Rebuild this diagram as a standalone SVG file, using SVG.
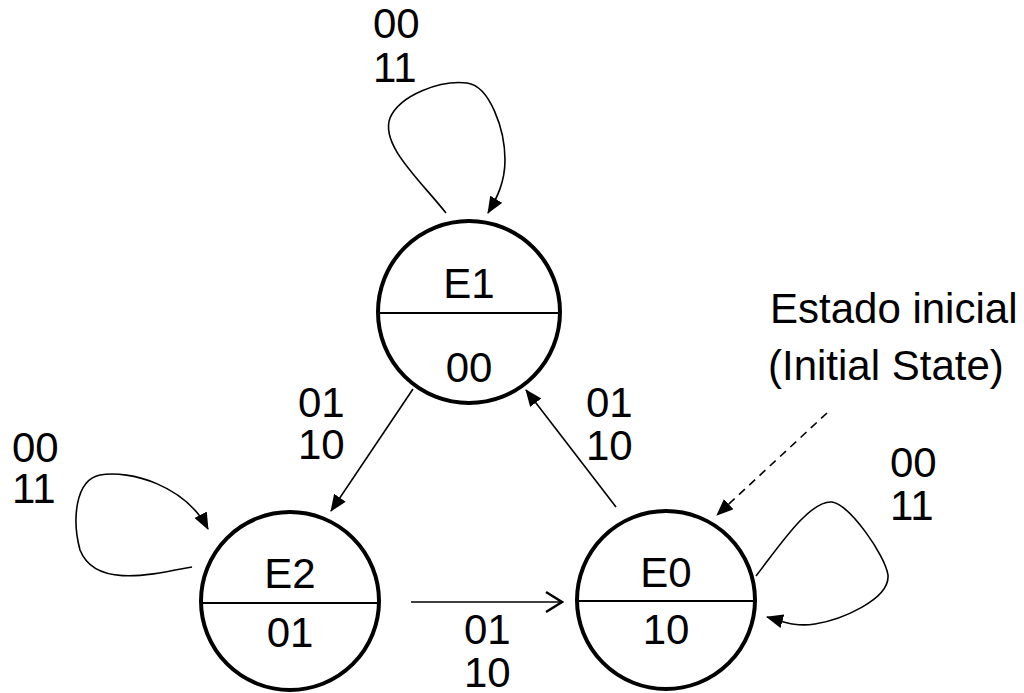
<svg xmlns="http://www.w3.org/2000/svg" width="1024" height="693" viewBox="0 0 1024 693">
<style>
text{font-family:"Liberation Sans",Arial,sans-serif;font-size:42px;fill:#000}
.st{fill:#fff;stroke:#000;stroke-width:4}
.div{stroke:#000;stroke-width:2}
.c{fill:none;stroke:#000;stroke-width:1.6}
.mid{text-anchor:middle}
</style>
<defs>
<marker id="ah" markerUnits="userSpaceOnUse" markerWidth="18" markerHeight="14" refX="16" refY="7" orient="auto">
<path d="M0,0 L17,7 L0,14 Z" fill="#000"/>
</marker>
<marker id="av" markerUnits="userSpaceOnUse" markerWidth="20" markerHeight="24" refX="18" refY="12" orient="auto">
<path d="M2,2 L18,12 L2,22" fill="none" stroke="#000" stroke-width="2.5"/>
</marker>
</defs>
<rect width="1024" height="693" fill="#fff"/>
<g id="connectors">
<path class="c" d="M413,389 L331,511" marker-end="url(#ah)"/>
<path class="c" d="M616,507 L526,390" marker-end="url(#ah)"/>
<path class="c" d="M411,602 L562,602" marker-end="url(#av)"/>
<path class="c" d="M827,413 L717,515" stroke-dasharray="8,6" marker-end="url(#ah)"/>
<path class="c" d="M446,213 C420,180 380,145 390,118 C400,95 440,80 467,83 C490,86 505,130 505,160 C505,182 497,198 488,213" marker-end="url(#ah)"/>
<path class="c" d="M192,567 C150,575 95,588 80,550 C72,520 75,480 100,475 C130,470 185,485 208,529" marker-end="url(#ah)"/>
<path class="c" d="M756,576 C780,545 810,500 832,502 C850,505 885,555 888,575 C890,600 840,620 815,624 C795,627 785,622 767,617" marker-end="url(#ah)"/>
</g>
<g id="E1">
<circle class="st" cx="469" cy="312" r="91"/>
<line class="div" x1="380" y1="313" x2="558" y2="313"/>
<text class="mid" x="469" y="298">E1</text>
<text class="mid" x="469" y="382">00</text>
</g>
<g id="E2">
<circle class="st" cx="290" cy="601" r="89"/>
<line class="div" x1="202" y1="603" x2="378" y2="603"/>
<text class="mid" x="290" y="588">E2</text>
<text class="mid" x="290" y="647">01</text>
</g>
<g id="E0">
<circle class="st" cx="666" cy="600" r="89"/>
<line class="div" x1="578" y1="601" x2="754" y2="601"/>
<text class="mid" x="666" y="587">E0</text>
<text class="mid" x="666" y="644">10</text>
</g>
<g id="labels">
<text x="373" y="38">00</text>
<text x="373" y="82">11</text>
<text x="12" y="462">00</text>
<text x="12" y="503">11</text>
<text x="890" y="477">00</text>
<text x="890" y="520">11</text>
<text x="298" y="417">01</text>
<text x="298" y="459">10</text>
<text x="586" y="417">01</text>
<text x="586" y="460">10</text>
<text x="464" y="644">01</text>
<text x="464" y="687">10</text>
<text x="770" y="323">Estado inicial</text>
<text x="768" y="380">(Initial State)</text>
</g>
</svg>
